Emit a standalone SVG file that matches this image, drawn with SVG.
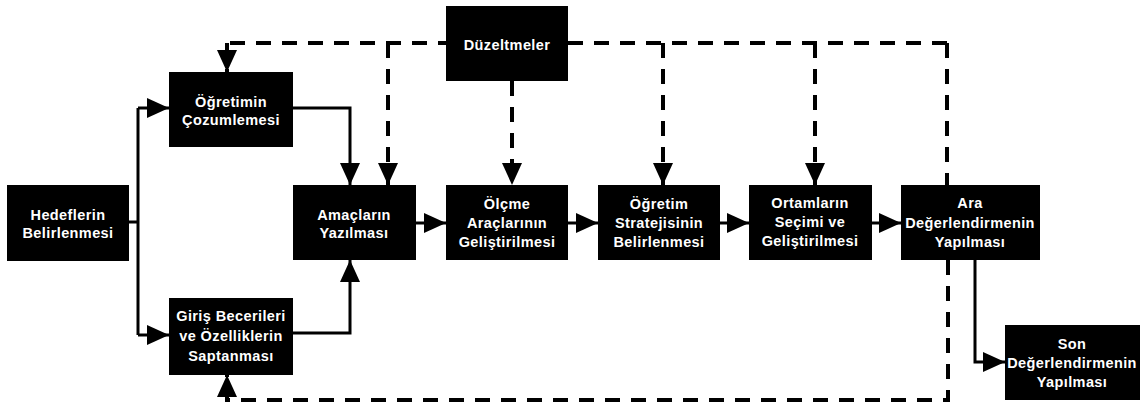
<svg xmlns="http://www.w3.org/2000/svg" width="1147" height="403" viewBox="0 0 1147 403">
<style>
.box{fill:#000;}
.t{fill:#fff;font-family:"Liberation Sans",Arial,sans-serif;font-weight:bold;font-size:14.5px;text-anchor:middle;letter-spacing:0.4px;}
.s{fill:none;stroke:#000;stroke-width:3;}
.d{fill:none;stroke:#000;stroke-width:4;stroke-dasharray:15 11;}
</style>
<defs>
<marker id="ah" markerUnits="userSpaceOnUse" markerWidth="22" markerHeight="20" refX="22" refY="10" orient="auto">
<path d="M0,0 L22,10 L0,20 Z" fill="#000"/>
</marker>
</defs>
<rect width="1147" height="403" fill="#fff"/>
<g id="connectors">
<path class="s" d="M129,222 H138"/>
<path class="s" d="M138,108 V335"/>
<path class="s" d="M138,108 H169" marker-end="url(#ah)"/>
<path class="s" d="M138,335 H169" marker-end="url(#ah)"/>
<path class="s" d="M293,108 H350 V185" marker-end="url(#ah)"/>
<path class="s" d="M293,333 H350 V260" marker-end="url(#ah)"/>
<path class="s" d="M416,223 H446" marker-end="url(#ah)"/>
<path class="s" d="M568,223 H598" marker-end="url(#ah)"/>
<path class="s" d="M720,223 H749" marker-end="url(#ah)"/>
<path class="s" d="M872,223 H901" marker-end="url(#ah)"/>
<path class="s" d="M975,260 V362 H1005" marker-end="url(#ah)"/>
<path class="d" d="M947,43 H227"/>
<path class="d" d="M227,43 V72" marker-end="url(#ah)"/>
<path class="d" d="M388,43 V185" marker-end="url(#ah)"/>
<path class="d" d="M512,81 V185" marker-end="url(#ah)"/>
<path class="d" d="M663,43 V185" marker-end="url(#ah)"/>
<path class="d" d="M815,43 V185" marker-end="url(#ah)"/>
<path class="d" d="M947,43 V185"/>
<path class="d" d="M948,260 V400 H227 V375" marker-end="url(#ah)"/>
</g>
<g id="duzeltmeler"><rect class="box" x="446" y="6" width="122" height="75"/><text class="t" x="507" y="50">Düzeltmeler</text></g>
<g id="hedeflerin"><rect class="box" x="7" y="185" width="122" height="76"/><text class="t" x="68" y="220">Hedeflerin</text><text class="t" x="68" y="238">Belirlenmesi</text></g>
<g id="ogretimin"><rect class="box" x="169" y="72" width="124" height="75"/><text class="t" x="231" y="107">Öğretimin</text><text class="t" x="231" y="125">Çozumlemesi</text></g>
<g id="giris"><rect class="box" x="169" y="298" width="124" height="77"/><text class="t" x="231" y="321">Giriş Becerileri</text><text class="t" x="231" y="341">ve Özelliklerin</text><text class="t" x="231" y="361">Saptanması</text></g>
<g id="amaclarin"><rect class="box" x="293" y="185" width="123" height="75"/><text class="t" x="354" y="220">Amaçların</text><text class="t" x="354" y="238">Yazılması</text></g>
<g id="olcme"><rect class="box" x="446" y="185" width="122" height="75"/><text class="t" x="507" y="209">Ölçme</text><text class="t" x="507" y="228">Araçlarının</text><text class="t" x="507" y="247">Geliştirilmesi</text></g>
<g id="strateji"><rect class="box" x="598" y="185" width="122" height="75"/><text class="t" x="659" y="209">Öğretim</text><text class="t" x="659" y="228">Stratejisinin</text><text class="t" x="659" y="247">Belirlenmesi</text></g>
<g id="ortamlarin"><rect class="box" x="749" y="185" width="123" height="75"/><text class="t" x="810" y="208">Ortamların</text><text class="t" x="810" y="227">Seçimi ve</text><text class="t" x="810" y="246">Geliştirilmesi</text></g>
<g id="ara"><rect class="box" x="901" y="185" width="139" height="75"/><text class="t" x="970" y="208">Ara</text><text class="t" x="970" y="228">Değerlendirmenin</text><text class="t" x="970" y="247">Yapılması</text></g>
<g id="son"><rect class="box" x="1005" y="325" width="135" height="75"/><text class="t" x="1072" y="349">Son</text><text class="t" x="1072" y="368">Değerlendirmenin</text><text class="t" x="1072" y="387">Yapılması</text></g>
</svg>
